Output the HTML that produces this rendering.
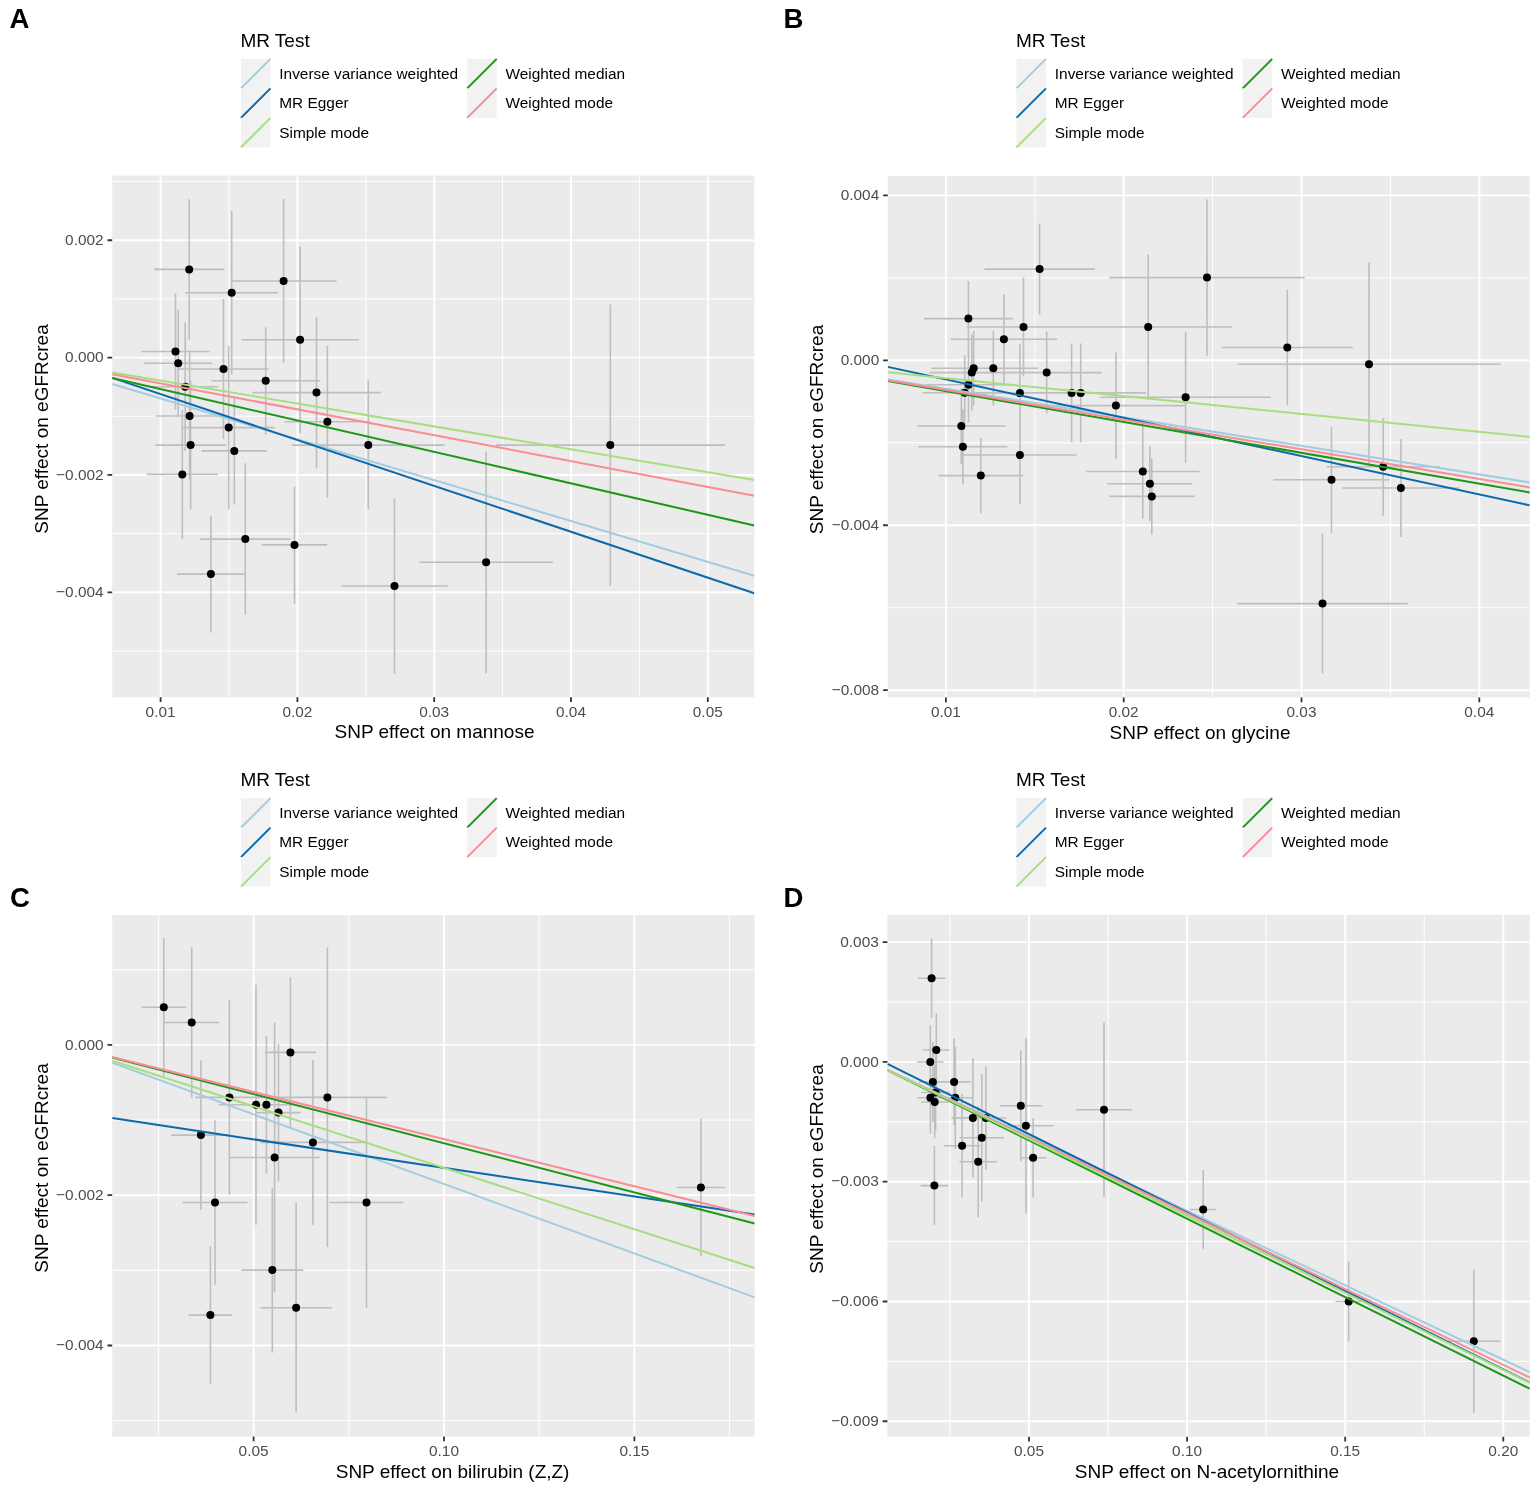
<!DOCTYPE html>
<html><head><meta charset="utf-8"><title>MR scatter plots</title>
<style>
html,body{margin:0;padding:0;background:#fff;}
body{width:1535px;height:1487px;overflow:hidden;}
svg{display:block;}
svg text{font-family:'Liberation Sans', Arial, Helvetica, sans-serif;}
.tk{font-size:15.4px;fill:#4d4d4d;}
.ti{font-size:19px;fill:#000;}
.lg{font-size:15.4px;fill:#000;}
.lt{font-size:19px;fill:#000;}
.pl{font-size:27.6px;font-weight:bold;fill:#000;}
</style></head><body>
<svg width="1535" height="1487" viewBox="0 0 1535 1487">
<rect width="1535" height="1487" fill="#fff"/>
<defs>
<clipPath id="cA"><rect x="112.2" y="175.6" width="642.1" height="521.7"/></clipPath>
<clipPath id="cB"><rect x="887.8" y="175.9" width="642" height="521.6"/></clipPath>
<clipPath id="cC"><rect x="112.2" y="915.1" width="642.5" height="521.5"/></clipPath>
<clipPath id="cD"><rect x="887.4" y="914.8" width="642.4" height="522"/></clipPath>
</defs>
<!-- Panel A -->
<g>
<rect x="112.2" y="175.6" width="642.1" height="521.7" fill="#ebebeb"/>
<g stroke="#fff"><line x1="229" y1="175.6" x2="229" y2="697.3" stroke-width="1"/><line x1="365.8" y1="175.6" x2="365.8" y2="697.3" stroke-width="1"/><line x1="502.6" y1="175.6" x2="502.6" y2="697.3" stroke-width="1"/><line x1="639.4" y1="175.6" x2="639.4" y2="697.3" stroke-width="1"/><line x1="112.2" y1="181.56" x2="754.3" y2="181.56" stroke-width="1"/><line x1="112.2" y1="298.92" x2="754.3" y2="298.92" stroke-width="1"/><line x1="112.2" y1="416.28" x2="754.3" y2="416.28" stroke-width="1"/><line x1="112.2" y1="533.64" x2="754.3" y2="533.64" stroke-width="1"/><line x1="112.2" y1="651" x2="754.3" y2="651" stroke-width="1"/><line x1="160.6" y1="175.6" x2="160.6" y2="697.3" stroke-width="1.9"/><line x1="297.4" y1="175.6" x2="297.4" y2="697.3" stroke-width="1.9"/><line x1="434.2" y1="175.6" x2="434.2" y2="697.3" stroke-width="1.9"/><line x1="571" y1="175.6" x2="571" y2="697.3" stroke-width="1.9"/><line x1="707.8" y1="175.6" x2="707.8" y2="697.3" stroke-width="1.9"/><line x1="112.2" y1="240.24" x2="754.3" y2="240.24" stroke-width="1.9"/><line x1="112.2" y1="357.6" x2="754.3" y2="357.6" stroke-width="1.9"/><line x1="112.2" y1="474.96" x2="754.3" y2="474.96" stroke-width="1.9"/><line x1="112.2" y1="592.32" x2="754.3" y2="592.32" stroke-width="1.9"/></g>
<g clip-path="url(#cA)">
<path d="M189.2 199.3V339.5M231.7 211.1V374.5M283.6 199.1V362.9M300.1 246.5V432.9M175.5 293.2V409.8M178.2 309.7V416.7M223.5 299.1V438.9M265.7 327.2V434.4M316.5 316.8V468.4M185.2 322.5V451.1M189.6 352.4V479.6M228.7 346V509.2M327.4 345.8V497.8M190.6 380.6V509.6M234.3 397.4V504.4M182.3 409.9V538.9M368.3 380.6V509.6M245.3 463.2V615M294.5 486.4V603.4M210.9 515.7V632.5M394.5 498.2V673.8M610.3 304.5V585.7M486.1 451.4V673.2" stroke="#bebebe" stroke-width="1.6" fill="none"/>
<path d="M153.9 269.4H224.5M185.3 292.8H278.1M230.7 281H336.5M241.6 339.7H358.6M141.3 351.5H209.7M144.1 363.2H212.3M178.5 369H268.5M211.3 380.8H320.1M252.3 392.6H380.7M152.2 386.8H218.2M155.6 416H223.6M182.7 427.6H274.7M284.4 421.8H370.4M155.1 445.1H226.1M201.6 450.9H267M146.9 474.4H217.7M291.9 445.1H444.7M200.3 539.1H290.3M261.8 544.9H327.2M177 574.1H244.8M341.3 586H447.7M495.6 445.1H725M419.3 562.3H552.9" stroke="#bebebe" stroke-width="1.6" fill="none"/>
<g fill="#000"><circle cx="189.2" cy="269.4" r="4"/><circle cx="231.7" cy="292.8" r="4"/><circle cx="283.6" cy="281" r="4"/><circle cx="300.1" cy="339.7" r="4"/><circle cx="175.5" cy="351.5" r="4"/><circle cx="178.2" cy="363.2" r="4"/><circle cx="223.5" cy="369" r="4"/><circle cx="265.7" cy="380.8" r="4"/><circle cx="316.5" cy="392.6" r="4"/><circle cx="185.2" cy="386.8" r="4"/><circle cx="189.6" cy="416" r="4"/><circle cx="228.7" cy="427.6" r="4"/><circle cx="327.4" cy="421.8" r="4"/><circle cx="190.6" cy="445.1" r="4"/><circle cx="234.3" cy="450.9" r="4"/><circle cx="182.3" cy="474.4" r="4"/><circle cx="368.3" cy="445.1" r="4"/><circle cx="245.3" cy="539.1" r="4"/><circle cx="294.5" cy="544.9" r="4"/><circle cx="210.9" cy="574.1" r="4"/><circle cx="394.5" cy="586" r="4"/><circle cx="610.3" cy="445.1" r="4"/><circle cx="486.1" cy="562.3" r="4"/></g>
<line x1="112.2" y1="384" x2="754.3" y2="575.73" stroke="#a2cde0" stroke-width="2"/>
<line x1="112.2" y1="377.86" x2="754.3" y2="593.28" stroke="#0a69ab" stroke-width="2"/>
<line x1="112.2" y1="377.91" x2="754.3" y2="525.47" stroke="#1e9616" stroke-width="2"/>
<line x1="112.2" y1="374.32" x2="754.3" y2="495.74" stroke="#f98c94" stroke-width="2"/>
<line x1="112.2" y1="372.42" x2="754.3" y2="480.1" stroke="#a6de80" stroke-width="2"/>
</g>
<path d="M160.6 697.3V702M297.4 697.3V702M434.2 697.3V702M571 697.3V702M707.8 697.3V702M107.5 240.24H112.2M107.5 357.6H112.2M107.5 474.96H112.2M107.5 592.32H112.2" stroke="#333" stroke-width="1.8" fill="none"/>
<text class="tk" x="160.6" y="716.8" text-anchor="middle">0.01</text>
<text class="tk" x="297.4" y="716.8" text-anchor="middle">0.02</text>
<text class="tk" x="434.2" y="716.8" text-anchor="middle">0.03</text>
<text class="tk" x="571" y="716.8" text-anchor="middle">0.04</text>
<text class="tk" x="707.8" y="716.8" text-anchor="middle">0.05</text>
<text class="tk" x="103.6" y="244.94" text-anchor="end">0.002</text>
<text class="tk" x="103.6" y="362.3" text-anchor="end">0.000</text>
<text class="tk" x="103.6" y="479.66" text-anchor="end">−0.002</text>
<text class="tk" x="103.6" y="597.02" text-anchor="end">−0.004</text>
<text class="ti" x="434.5" y="738.3" text-anchor="middle">SNP effect on mannose</text>
<text class="ti" transform="translate(47.9 429) rotate(-90)" text-anchor="middle">SNP effect on eGFRcrea</text>
<text class="pl" x="9.4" y="28">A</text>
<text class="lt" x="240.4" y="46.9">MR Test</text>
<rect x="241" y="58.9" width="29.5" height="29.5" fill="#f2f2f2"/><line x1="241" y1="88.4" x2="270.5" y2="58.9" stroke="#a2cde0" stroke-width="2"/><text class="lg" x="279.3" y="78.65">Inverse variance weighted</text>
<rect x="241" y="88.4" width="29.5" height="29.5" fill="#f2f2f2"/><line x1="241" y1="117.9" x2="270.5" y2="88.4" stroke="#0a69ab" stroke-width="2"/><text class="lg" x="279.3" y="108.15">MR Egger</text>
<rect x="241" y="117.9" width="29.5" height="29.5" fill="#f2f2f2"/><line x1="241" y1="147.4" x2="270.5" y2="117.9" stroke="#a6de80" stroke-width="2"/><text class="lg" x="279.3" y="137.65">Simple mode</text>
<rect x="467.2" y="58.9" width="29.5" height="29.5" fill="#f2f2f2"/><line x1="467.2" y1="88.4" x2="496.7" y2="58.9" stroke="#1e9616" stroke-width="2"/><text class="lg" x="505.5" y="78.65">Weighted median</text>
<rect x="467.2" y="88.4" width="29.5" height="29.5" fill="#f2f2f2"/><line x1="467.2" y1="117.9" x2="496.7" y2="88.4" stroke="#f98c94" stroke-width="2"/><text class="lg" x="505.5" y="108.15">Weighted mode</text>
</g>
<!-- Panel B -->
<g>
<rect x="887.8" y="175.9" width="642" height="521.6" fill="#ebebeb"/>
<g stroke="#fff"><line x1="1034.8" y1="175.9" x2="1034.8" y2="697.5" stroke-width="1"/><line x1="1212.6" y1="175.9" x2="1212.6" y2="697.5" stroke-width="1"/><line x1="1390.4" y1="175.9" x2="1390.4" y2="697.5" stroke-width="1"/><line x1="887.8" y1="277.82" x2="1529.8" y2="277.82" stroke-width="1"/><line x1="887.8" y1="442.78" x2="1529.8" y2="442.78" stroke-width="1"/><line x1="887.8" y1="607.74" x2="1529.8" y2="607.74" stroke-width="1"/><line x1="945.9" y1="175.9" x2="945.9" y2="697.5" stroke-width="1.9"/><line x1="1123.7" y1="175.9" x2="1123.7" y2="697.5" stroke-width="1.9"/><line x1="1301.5" y1="175.9" x2="1301.5" y2="697.5" stroke-width="1.9"/><line x1="1479.3" y1="175.9" x2="1479.3" y2="697.5" stroke-width="1.9"/><line x1="887.8" y1="195.34" x2="1529.8" y2="195.34" stroke-width="1.9"/><line x1="887.8" y1="360.3" x2="1529.8" y2="360.3" stroke-width="1.9"/><line x1="887.8" y1="525.26" x2="1529.8" y2="525.26" stroke-width="1.9"/><line x1="887.8" y1="690.22" x2="1529.8" y2="690.22" stroke-width="1.9"/></g>
<g clip-path="url(#cB)">
<path d="M1039.6 223.7V314.5M968.4 280.9V356.3M1023.5 277.6V376.4M1003.9 294.4V384M973.7 330.9V405.5M993.3 330.7V405.7M1046.7 331.6V413.6M971.8 334.5V410.7M968.5 346.8V422.6M964.7 355.3V430.1M1019.9 343.9V442.1M1071.6 343.5V442.3M1080.7 343.5V442.3M961.3 388.1V463.9M962.9 409.1V484.5M1019.9 406V504M980.8 437.9V513.3M1115.9 352.3V458.9M1148.2 254.5V399.5M1185.6 331.4V463M1207 199.4V355.8M1142.8 424.3V518.7M1149.9 446.3V521.1M1151.8 458.4V534.4M1287.3 289.8V405.2M1369 262.2V466.2M1383.2 417.9V515.7M1331.5 426.7V532.9M1400.9 439V537M1322.5 533.6V673.6" stroke="#bebebe" stroke-width="1.6" fill="none"/>
<path d="M984.4 269.1H1094.8M924.1 318.6H1012.7M966.8 327H1080.2M950.7 339.2H1057.1M931.3 368.2H1016.1M948.7 368.2H1037.9M991.7 372.6H1101.7M929.5 372.6H1014.1M926.5 384.7H1010.5M922.2 392.7H1007.2M969.9 393H1069.9M1021.6 392.9H1121.6M1015.2 392.9H1146.2M916.9 426H1005.7M918.4 446.8H1007.4M963.2 455H1076.6M938.4 475.6H1023.2M1047.3 405.6H1184.5M1064.2 327H1232.2M1100.3 397.2H1270.9M1109.2 277.6H1304.8M1086.1 471.5H1199.5M1107.4 483.7H1192.4M1109.3 496.4H1194.3M1221.8 347.5H1352.8M1237.4 364.2H1500.6M1326.7 466.8H1439.7M1273.3 479.8H1389.7M1342.4 488H1459.4M1237.3 603.6H1407.7" stroke="#bebebe" stroke-width="1.6" fill="none"/>
<g fill="#000"><circle cx="1039.6" cy="269.1" r="4"/><circle cx="968.4" cy="318.6" r="4"/><circle cx="1023.5" cy="327" r="4"/><circle cx="1003.9" cy="339.2" r="4"/><circle cx="973.7" cy="368.2" r="4"/><circle cx="993.3" cy="368.2" r="4"/><circle cx="1046.7" cy="372.6" r="4"/><circle cx="971.8" cy="372.6" r="4"/><circle cx="968.5" cy="384.7" r="4"/><circle cx="964.7" cy="392.7" r="4"/><circle cx="1019.9" cy="393" r="4"/><circle cx="1071.6" cy="392.9" r="4"/><circle cx="1080.7" cy="392.9" r="4"/><circle cx="961.3" cy="426" r="4"/><circle cx="962.9" cy="446.8" r="4"/><circle cx="1019.9" cy="455" r="4"/><circle cx="980.8" cy="475.6" r="4"/><circle cx="1115.9" cy="405.6" r="4"/><circle cx="1148.2" cy="327" r="4"/><circle cx="1185.6" cy="397.2" r="4"/><circle cx="1207" cy="277.6" r="4"/><circle cx="1142.8" cy="471.5" r="4"/><circle cx="1149.9" cy="483.7" r="4"/><circle cx="1151.8" cy="496.4" r="4"/><circle cx="1287.3" cy="347.5" r="4"/><circle cx="1369" cy="364.2" r="4"/><circle cx="1383.2" cy="466.8" r="4"/><circle cx="1331.5" cy="479.8" r="4"/><circle cx="1400.9" cy="488" r="4"/><circle cx="1322.5" cy="603.6" r="4"/></g>
<line x1="887.8" y1="379.5" x2="1529.8" y2="482.48" stroke="#a2cde0" stroke-width="2"/>
<line x1="887.8" y1="366.89" x2="1529.8" y2="505.37" stroke="#0a69ab" stroke-width="2"/>
<line x1="887.8" y1="381.07" x2="1529.8" y2="492.45" stroke="#1e9616" stroke-width="2"/>
<line x1="887.8" y1="380.28" x2="1529.8" y2="487.43" stroke="#f98c94" stroke-width="2"/>
<line x1="887.8" y1="372.32" x2="1529.8" y2="436.77" stroke="#a6de80" stroke-width="2"/>
</g>
<path d="M945.9 697.5V702.2M1123.7 697.5V702.2M1301.5 697.5V702.2M1479.3 697.5V702.2M883.1 195.34H887.8M883.1 360.3H887.8M883.1 525.26H887.8M883.1 690.22H887.8" stroke="#333" stroke-width="1.8" fill="none"/>
<text class="tk" x="945.9" y="717" text-anchor="middle">0.01</text>
<text class="tk" x="1123.7" y="717" text-anchor="middle">0.02</text>
<text class="tk" x="1301.5" y="717" text-anchor="middle">0.03</text>
<text class="tk" x="1479.3" y="717" text-anchor="middle">0.04</text>
<text class="tk" x="879.2" y="200.04" text-anchor="end">0.004</text>
<text class="tk" x="879.2" y="365" text-anchor="end">0.000</text>
<text class="tk" x="879.2" y="529.96" text-anchor="end">−0.004</text>
<text class="tk" x="879.2" y="694.92" text-anchor="end">−0.008</text>
<text class="ti" x="1200" y="738.5" text-anchor="middle">SNP effect on glycine</text>
<text class="ti" transform="translate(823.4 429.5) rotate(-90)" text-anchor="middle">SNP effect on eGFRcrea</text>
<text class="pl" x="783.4" y="28.4">B</text>
<text class="lt" x="1015.9" y="46.9">MR Test</text>
<rect x="1016.5" y="58.9" width="29.5" height="29.5" fill="#f2f2f2"/><line x1="1016.5" y1="88.4" x2="1046" y2="58.9" stroke="#a2cde0" stroke-width="2"/><text class="lg" x="1054.8" y="78.65">Inverse variance weighted</text>
<rect x="1016.5" y="88.4" width="29.5" height="29.5" fill="#f2f2f2"/><line x1="1016.5" y1="117.9" x2="1046" y2="88.4" stroke="#0a69ab" stroke-width="2"/><text class="lg" x="1054.8" y="108.15">MR Egger</text>
<rect x="1016.5" y="117.9" width="29.5" height="29.5" fill="#f2f2f2"/><line x1="1016.5" y1="147.4" x2="1046" y2="117.9" stroke="#a6de80" stroke-width="2"/><text class="lg" x="1054.8" y="137.65">Simple mode</text>
<rect x="1242.7" y="58.9" width="29.5" height="29.5" fill="#f2f2f2"/><line x1="1242.7" y1="88.4" x2="1272.2" y2="58.9" stroke="#1e9616" stroke-width="2"/><text class="lg" x="1281" y="78.65">Weighted median</text>
<rect x="1242.7" y="88.4" width="29.5" height="29.5" fill="#f2f2f2"/><line x1="1242.7" y1="117.9" x2="1272.2" y2="88.4" stroke="#f98c94" stroke-width="2"/><text class="lg" x="1281" y="108.15">Weighted mode</text>
</g>
<!-- Panel C -->
<g>
<rect x="112.2" y="915.1" width="642.5" height="521.5" fill="#ebebeb"/>
<g stroke="#fff"><line x1="158.4" y1="915.1" x2="158.4" y2="1436.6" stroke-width="1"/><line x1="348.8" y1="915.1" x2="348.8" y2="1436.6" stroke-width="1"/><line x1="539.2" y1="915.1" x2="539.2" y2="1436.6" stroke-width="1"/><line x1="729.6" y1="915.1" x2="729.6" y2="1436.6" stroke-width="1"/><line x1="112.2" y1="969.75" x2="754.7" y2="969.75" stroke-width="1"/><line x1="112.2" y1="1120.05" x2="754.7" y2="1120.05" stroke-width="1"/><line x1="112.2" y1="1270.35" x2="754.7" y2="1270.35" stroke-width="1"/><line x1="112.2" y1="1420.65" x2="754.7" y2="1420.65" stroke-width="1"/><line x1="253.6" y1="915.1" x2="253.6" y2="1436.6" stroke-width="1.9"/><line x1="444" y1="915.1" x2="444" y2="1436.6" stroke-width="1.9"/><line x1="634.4" y1="915.1" x2="634.4" y2="1436.6" stroke-width="1.9"/><line x1="112.2" y1="1044.9" x2="754.7" y2="1044.9" stroke-width="1.9"/><line x1="112.2" y1="1195.2" x2="754.7" y2="1195.2" stroke-width="1.9"/><line x1="112.2" y1="1345.5" x2="754.7" y2="1345.5" stroke-width="1.9"/></g>
<g clip-path="url(#cC)">
<path d="M163.8 938V1076.4M191.7 947.3V1097.7M290.4 977.6V1127.2M229.4 1000.1V1194.7M256 984.8V1224.8M266.4 1036V1173.6M278.5 1043.9V1181.3M327.4 947.6V1247.2M200.9 1060.4V1209.8M312.9 1060V1224.8M274.6 1022.4V1292.6M215 1120.2V1284.8M366.5 1097.3V1307.7M272.3 1187.8V1352.4M296.1 1202.8V1412.8M210.4 1246.3V1383.9M700.9 1118.9V1256.1" stroke="#bebebe" stroke-width="1.6" fill="none"/>
<path d="M141.5 1007.2H186.1M164 1022.5H219.4M264.8 1052.4H316M195.2 1097.4H263.6M218.4 1104.8H293.6M242.2 1104.8H290.6M256.2 1112.6H300.8M267.6 1097.4H387.2M171.3 1135.1H230.5M260.4 1142.4H365.4M229.5 1157.5H319.7M182.5 1202.5H247.5M329.5 1202.5H403.5M241.2 1270.1H303.4M260.5 1307.8H331.7M188.5 1315.1H232.3M676.6 1187.5H725.2" stroke="#bebebe" stroke-width="1.6" fill="none"/>
<g fill="#000"><circle cx="163.8" cy="1007.2" r="4"/><circle cx="191.7" cy="1022.5" r="4"/><circle cx="290.4" cy="1052.4" r="4"/><circle cx="229.4" cy="1097.4" r="4"/><circle cx="256" cy="1104.8" r="4"/><circle cx="266.4" cy="1104.8" r="4"/><circle cx="278.5" cy="1112.6" r="4"/><circle cx="327.4" cy="1097.4" r="4"/><circle cx="200.9" cy="1135.1" r="4"/><circle cx="312.9" cy="1142.4" r="4"/><circle cx="274.6" cy="1157.5" r="4"/><circle cx="215" cy="1202.5" r="4"/><circle cx="366.5" cy="1202.5" r="4"/><circle cx="272.3" cy="1270.1" r="4"/><circle cx="296.1" cy="1307.8" r="4"/><circle cx="210.4" cy="1315.1" r="4"/><circle cx="700.9" cy="1187.5" r="4"/></g>
<line x1="112.2" y1="1062.79" x2="754.7" y2="1297.37" stroke="#a2cde0" stroke-width="2"/>
<line x1="112.2" y1="1118.1" x2="754.7" y2="1214.54" stroke="#0a69ab" stroke-width="2"/>
<line x1="112.2" y1="1057.55" x2="754.7" y2="1223.45" stroke="#1e9616" stroke-width="2"/>
<line x1="112.2" y1="1057.02" x2="754.7" y2="1215.98" stroke="#f98c94" stroke-width="2"/>
<line x1="112.2" y1="1060.71" x2="754.7" y2="1268.05" stroke="#a6de80" stroke-width="2"/>
</g>
<path d="M253.6 1436.6V1441.3M444 1436.6V1441.3M634.4 1436.6V1441.3M107.5 1044.9H112.2M107.5 1195.2H112.2M107.5 1345.5H112.2" stroke="#333" stroke-width="1.8" fill="none"/>
<text class="tk" x="253.6" y="1456.1" text-anchor="middle">0.05</text>
<text class="tk" x="444" y="1456.1" text-anchor="middle">0.10</text>
<text class="tk" x="634.4" y="1456.1" text-anchor="middle">0.15</text>
<text class="tk" x="103.6" y="1049.6" text-anchor="end">0.000</text>
<text class="tk" x="103.6" y="1199.9" text-anchor="end">−0.002</text>
<text class="tk" x="103.6" y="1350.2" text-anchor="end">−0.004</text>
<text class="ti" x="452.6" y="1477.6" text-anchor="middle">SNP effect on bilirubin (Z,Z)</text>
<text class="ti" transform="translate(47.9 1168) rotate(-90)" text-anchor="middle">SNP effect on eGFRcrea</text>
<text class="pl" x="10" y="906.9">C</text>
<text class="lt" x="240.4" y="786.1">MR Test</text>
<rect x="241" y="798.1" width="29.5" height="29.5" fill="#f2f2f2"/><line x1="241" y1="827.6" x2="270.5" y2="798.1" stroke="#a2cde0" stroke-width="2"/><text class="lg" x="279.3" y="817.85">Inverse variance weighted</text>
<rect x="241" y="827.6" width="29.5" height="29.5" fill="#f2f2f2"/><line x1="241" y1="857.1" x2="270.5" y2="827.6" stroke="#0a69ab" stroke-width="2"/><text class="lg" x="279.3" y="847.35">MR Egger</text>
<rect x="241" y="857.1" width="29.5" height="29.5" fill="#f2f2f2"/><line x1="241" y1="886.6" x2="270.5" y2="857.1" stroke="#a6de80" stroke-width="2"/><text class="lg" x="279.3" y="876.85">Simple mode</text>
<rect x="467.2" y="798.1" width="29.5" height="29.5" fill="#f2f2f2"/><line x1="467.2" y1="827.6" x2="496.7" y2="798.1" stroke="#1e9616" stroke-width="2"/><text class="lg" x="505.5" y="817.85">Weighted median</text>
<rect x="467.2" y="827.6" width="29.5" height="29.5" fill="#f2f2f2"/><line x1="467.2" y1="857.1" x2="496.7" y2="827.6" stroke="#f98c94" stroke-width="2"/><text class="lg" x="505.5" y="847.35">Weighted mode</text>
</g>
<!-- Panel D -->
<g>
<rect x="887.4" y="914.8" width="642.4" height="522" fill="#ebebeb"/>
<g stroke="#fff"><line x1="949.95" y1="914.8" x2="949.95" y2="1436.8" stroke-width="1"/><line x1="1108.05" y1="914.8" x2="1108.05" y2="1436.8" stroke-width="1"/><line x1="1266.15" y1="914.8" x2="1266.15" y2="1436.8" stroke-width="1"/><line x1="1424.25" y1="914.8" x2="1424.25" y2="1436.8" stroke-width="1"/><line x1="887.4" y1="1002.01" x2="1529.8" y2="1002.01" stroke-width="1"/><line x1="887.4" y1="1121.8" x2="1529.8" y2="1121.8" stroke-width="1"/><line x1="887.4" y1="1241.59" x2="1529.8" y2="1241.59" stroke-width="1"/><line x1="887.4" y1="1361.38" x2="1529.8" y2="1361.38" stroke-width="1"/><line x1="1029" y1="914.8" x2="1029" y2="1436.8" stroke-width="1.9"/><line x1="1187.1" y1="914.8" x2="1187.1" y2="1436.8" stroke-width="1.9"/><line x1="1345.2" y1="914.8" x2="1345.2" y2="1436.8" stroke-width="1.9"/><line x1="1503.3" y1="914.8" x2="1503.3" y2="1436.8" stroke-width="1.9"/><line x1="887.4" y1="942.11" x2="1529.8" y2="942.11" stroke-width="1.9"/><line x1="887.4" y1="1061.9" x2="1529.8" y2="1061.9" stroke-width="1.9"/><line x1="887.4" y1="1181.69" x2="1529.8" y2="1181.69" stroke-width="1.9"/><line x1="887.4" y1="1301.48" x2="1529.8" y2="1301.48" stroke-width="1.9"/><line x1="887.4" y1="1421.27" x2="1529.8" y2="1421.27" stroke-width="1.9"/></g>
<g clip-path="url(#cD)">
<path d="M931.6 938.5V1018.1M936.3 1013.4V1086.6M930.3 1025.3V1098.7M932.9 1041.9V1121.9M954.1 1038.5V1125.3M935.6 1054.5V1130.5M930.4 1061.3V1134.1M955.3 1046.7V1148.9M934.7 1065.8V1138.2M972.9 1058.4V1177.4M985.9 1066.4V1169.6M1020.8 1050.3V1161.3M1025.9 1038.2V1213.4M981.8 1073.9V1201.5M962.1 1094.1V1197.3M978.2 1106.1V1217.3M1033.1 1118V1197.4M934.4 1145.9V1225.3M1104 1022.6V1197M1203.2 1170.1V1248.9M1348.7 1261.7V1341.3M1473.8 1269.7V1412.7" stroke="#bebebe" stroke-width="1.6" fill="none"/>
<path d="M918.1 978.3H945.1M922.8 1050H949.8M916.9 1062H943.7M919.1 1081.9H946.7M937.5 1081.9H970.7M921.1 1092.5H950.1M917.1 1097.7H943.7M938.5 1097.8H972.1M921.2 1102H948.2M951.4 1117.9H994.4M965.5 1118H1006.3M999.8 1105.8H1041.8M998.1 1125.8H1053.7M959.6 1137.7H1004M943.8 1145.7H980.4M959.4 1161.7H997M1019.8 1157.7H1046.4M920.7 1185.6H948.1M1075.8 1109.8H1132.2M1190 1209.5H1216.4M1335.5 1301.5H1361.9M1447.2 1341.2H1500.4" stroke="#bebebe" stroke-width="1.6" fill="none"/>
<g fill="#000"><circle cx="931.6" cy="978.3" r="4"/><circle cx="936.3" cy="1050" r="4"/><circle cx="930.3" cy="1062" r="4"/><circle cx="932.9" cy="1081.9" r="4"/><circle cx="954.1" cy="1081.9" r="4"/><circle cx="935.6" cy="1092.5" r="4"/><circle cx="930.4" cy="1097.7" r="4"/><circle cx="955.3" cy="1097.8" r="4"/><circle cx="934.7" cy="1102" r="4"/><circle cx="972.9" cy="1117.9" r="4"/><circle cx="985.9" cy="1118" r="4"/><circle cx="1020.8" cy="1105.8" r="4"/><circle cx="1025.9" cy="1125.8" r="4"/><circle cx="981.8" cy="1137.7" r="4"/><circle cx="962.1" cy="1145.7" r="4"/><circle cx="978.2" cy="1161.7" r="4"/><circle cx="1033.1" cy="1157.7" r="4"/><circle cx="934.4" cy="1185.6" r="4"/><circle cx="1104" cy="1109.8" r="4"/><circle cx="1203.2" cy="1209.5" r="4"/><circle cx="1348.7" cy="1301.5" r="4"/><circle cx="1473.8" cy="1341.2" r="4"/></g>
<line x1="887.4" y1="1069.67" x2="1529.8" y2="1372.18" stroke="#a2cde0" stroke-width="2"/>
<line x1="887.4" y1="1063.8" x2="1529.8" y2="1382.43" stroke="#0a69ab" stroke-width="2"/>
<line x1="887.4" y1="1070.08" x2="1529.8" y2="1388.65" stroke="#1e9616" stroke-width="2"/>
<line x1="887.4" y1="1069.81" x2="1529.8" y2="1377.58" stroke="#f98c94" stroke-width="2"/>
<line x1="887.4" y1="1069.93" x2="1529.8" y2="1382.65" stroke="#a6de80" stroke-width="2"/>
</g>
<path d="M1029 1436.8V1441.5M1187.1 1436.8V1441.5M1345.2 1436.8V1441.5M1503.3 1436.8V1441.5M882.7 942.11H887.4M882.7 1061.9H887.4M882.7 1181.69H887.4M882.7 1301.48H887.4M882.7 1421.27H887.4" stroke="#333" stroke-width="1.8" fill="none"/>
<text class="tk" x="1029" y="1456.3" text-anchor="middle">0.05</text>
<text class="tk" x="1187.1" y="1456.3" text-anchor="middle">0.10</text>
<text class="tk" x="1345.2" y="1456.3" text-anchor="middle">0.15</text>
<text class="tk" x="1503.3" y="1456.3" text-anchor="middle">0.20</text>
<text class="tk" x="878.8" y="946.81" text-anchor="end">0.003</text>
<text class="tk" x="878.8" y="1066.6" text-anchor="end">0.000</text>
<text class="tk" x="878.8" y="1186.39" text-anchor="end">−0.003</text>
<text class="tk" x="878.8" y="1306.18" text-anchor="end">−0.006</text>
<text class="tk" x="878.8" y="1425.97" text-anchor="end">−0.009</text>
<text class="ti" x="1207" y="1477.8" text-anchor="middle">SNP effect on N-acetylornithine</text>
<text class="ti" transform="translate(823.4 1169) rotate(-90)" text-anchor="middle">SNP effect on eGFRcrea</text>
<text class="pl" x="783.4" y="906.8">D</text>
<text class="lt" x="1015.9" y="786.1">MR Test</text>
<rect x="1016.5" y="798.1" width="29.5" height="29.5" fill="#f2f2f2"/><line x1="1016.5" y1="827.6" x2="1046" y2="798.1" stroke="#a2cde0" stroke-width="2"/><text class="lg" x="1054.8" y="817.85">Inverse variance weighted</text>
<rect x="1016.5" y="827.6" width="29.5" height="29.5" fill="#f2f2f2"/><line x1="1016.5" y1="857.1" x2="1046" y2="827.6" stroke="#0a69ab" stroke-width="2"/><text class="lg" x="1054.8" y="847.35">MR Egger</text>
<rect x="1016.5" y="857.1" width="29.5" height="29.5" fill="#f2f2f2"/><line x1="1016.5" y1="886.6" x2="1046" y2="857.1" stroke="#a6de80" stroke-width="2"/><text class="lg" x="1054.8" y="876.85">Simple mode</text>
<rect x="1242.7" y="798.1" width="29.5" height="29.5" fill="#f2f2f2"/><line x1="1242.7" y1="827.6" x2="1272.2" y2="798.1" stroke="#1e9616" stroke-width="2"/><text class="lg" x="1281" y="817.85">Weighted median</text>
<rect x="1242.7" y="827.6" width="29.5" height="29.5" fill="#f2f2f2"/><line x1="1242.7" y1="857.1" x2="1272.2" y2="827.6" stroke="#f98c94" stroke-width="2"/><text class="lg" x="1281" y="847.35">Weighted mode</text>
</g>
</svg>
</body></html>
